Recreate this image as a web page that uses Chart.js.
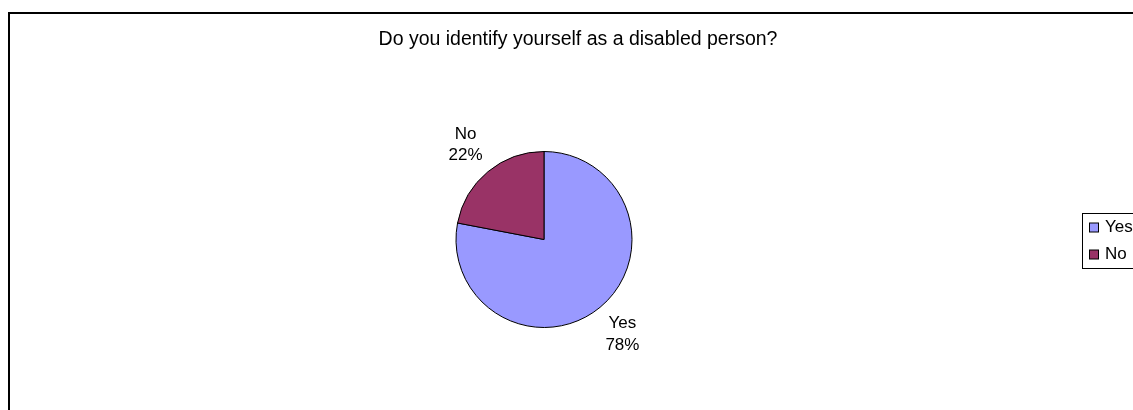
<!DOCTYPE html>
<html>
<head>
<meta charset="utf-8">
<title>Disabled person survey</title>
<script src="https://cdn.jsdelivr.net/npm/chart.js@4/dist/chart.umd.min.js"></script>
<style>
  html, body { margin: 0; padding: 0; background: #fff; overflow: hidden; }
  #wrap { position: relative; width: 1133px; height: 410px; overflow: hidden; }
  /* outer chart frame, runs off the right and bottom edges */
  #frame {
    position: absolute; left: 8px; top: 12px;
    width: 1200px; height: 500px;
    border: 2px solid #000;
  }
  #survey { position: absolute; left: 0; top: 0; }
</style>
</head>
<body>
<div id="wrap">
  <div id="frame"></div>
  <canvas id="survey" width="1133" height="410"></canvas>
</div>
<script>
const chartTitle = "Do you identify yourself as a disabled person?";
const categories = ["Yes", "No"];
const shares = [78, 22];
const sliceColors = ["#9999ff", "#993366"];

const fontFamily = '"Liberation Sans", Arial, sans-serif';

// title drawn centred over the whole frame (not just the plot area)
const titlePlugin = {
  id: "frameTitle",
  afterDraw(chart) {
    const c = chart.ctx;
    c.save();
    c.font = "19.5px " + fontFamily;
    c.fillStyle = "#000";
    c.textAlign = "center";
    c.textBaseline = "alphabetic";
    c.fillText(chartTitle, 578, 45);
    c.restore();
  }
};

// "Yes / 78%" style labels outside each slice
const sliceLabels = {
  id: "sliceLabels",
  afterDatasetsDraw(chart) {
    const c = chart.ctx;
    const meta = chart.getDatasetMeta(0);
    c.save();
    c.font = "17px " + fontFamily;
    c.fillStyle = "#000";
    c.textAlign = "center";
    c.textBaseline = "middle";
    meta.data.forEach(function(arc, i) {
      const mid = (arc.startAngle + arc.endAngle) / 2;
      const dist = arc.outerRadius + 35;
      const x = arc.x + Math.cos(mid) * dist;
      const y = arc.y + Math.sin(mid) * dist;
      c.fillText(chart.data.labels[i], x, y - 10.75);
      c.fillText(chart.data.datasets[0].data[i] + "%", x, y + 10.75);
    });
    c.restore();
  }
};

// boxed legend on the right
const boxLegend = {
  id: "boxLegend",
  afterDraw(chart) {
    const c = chart.ctx;
    const ds = chart.data.datasets[0];
    c.save();
    c.strokeStyle = "#000";
    c.lineWidth = 1;
    c.strokeRect(1082.5, 213.5, 100, 55);
    c.font = "17px " + fontFamily;
    c.textAlign = "left";
    c.textBaseline = "middle";
    chart.data.labels.forEach(function(lbl, i) {
      const cy = 227.5 + i * 27;
      c.fillStyle = ds.backgroundColor[i];
      c.fillRect(1089.5, cy - 4.5, 9, 9);
      c.strokeRect(1089.5, cy - 4.5, 9, 9);
      c.fillStyle = "#000";
      c.fillText(lbl, 1105, cy);
    });
    c.restore();
  }
};

const ctx = document.getElementById("survey").getContext("2d");
const chart = new Chart(ctx, {
  type: "pie",
  data: {
    labels: categories,
    datasets: [
      {
        data: shares,
        backgroundColor: sliceColors,
        borderColor: "#000",
        borderWidth: 1,
        radius: 88
      }
    ]
  },
  options: {
    responsive: false,
    animation: false,
    layout: {
      padding: { left: 0, right: 45, top: 69, bottom: 0 }
    },
    plugins: {
      legend: { display: false },
      title: { display: false },
      tooltip: { enabled: false }
    }
  },
  plugins: [titlePlugin, sliceLabels, boxLegend]
});
</script>
</body>
</html>
